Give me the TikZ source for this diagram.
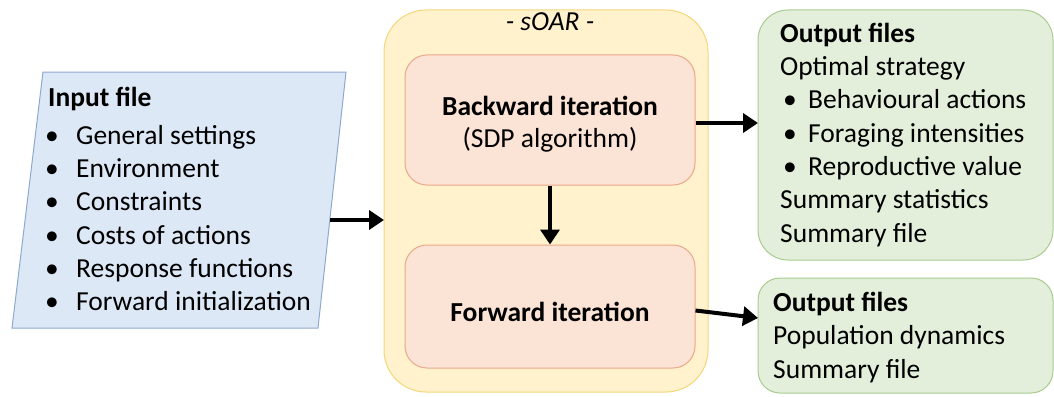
\documentclass[tikz,border=0pt]{standalone}
\usepackage{fontspec}
\setmainfont{Carlito}
\usetikzlibrary{arrows.meta}
\definecolor{inFill}{HTML}{DDE8F6}
\definecolor{inDraw}{HTML}{8EA9CF}
\definecolor{soFill}{HTML}{FFF2CC}
\definecolor{soDraw}{HTML}{F3D77A}
\definecolor{itFill}{HTML}{FBE3D5}
\definecolor{itDraw}{HTML}{E9A98A}
\definecolor{ouFill}{HTML}{E3EFDA}
\definecolor{ouDraw}{HTML}{A8CC90}
\tikzset{
  txt/.style={font=\fontsize{27.5}{33.3}\selectfont, inner sep=0pt, align=left},
  ctxt/.style={font=\fontsize{27.5}{32}\selectfont, inner sep=0pt, align=center},
  conn/.style={line width=4pt, -{Triangle[length=15pt,width=19pt]}},
}
\newcommand{\bulA}{\hspace*{-3pt}\makebox[31pt][l]{•}}
\newcommand{\bulB}{\hspace*{3pt}\makebox[25pt][l]{•}}
\begin{document}
\begin{tikzpicture}[x=1pt,y=-1pt]
\useasboundingbox (0,0) rectangle (1054,396);
% input parallelogram
\draw[fill=inFill, draw=inDraw, line width=1pt] (43,72) coordinate (inTL) -- (346,72) -- (318,328) -- (12,328) -- cycle;
\coordinate (inR) at (330,220);
\node[txt, anchor=base west] (intext) at (48,310.7) {\textbf{Input file}\\[4.7pt]
\bulA General settings\\
\bulA Environment\\
\bulA Constraints\\
\bulA Costs of actions\\
\bulA Response functions\\
\bulA Forward initialization};
% sOAR container
\draw[fill=soFill, draw=soDraw, line width=1pt, rounded corners=42pt] (384,10) rectangle (708,392);
\node[ctxt, anchor=base, font=\fontsize{27.5}{32}\selectfont\itshape] (soar) at (550,31) {- sOAR -};
\coordinate (soL) at (384,220);
% iteration boxes
\node[draw=itDraw, fill=itFill, line width=1pt, rounded corners=22pt, minimum width=290pt, minimum height=130pt, inner sep=0pt] (back) at (550,120) {};
\node[ctxt, anchor=base] (backt) at (550,115) {\textbf{Backward iteration}};
\node[ctxt, anchor=base] (backs) at (550,147) {(SDP algorithm)};
\node[draw=itDraw, fill=itFill, line width=1pt, rounded corners=22pt, minimum width=290pt, minimum height=123pt, inner sep=0pt] (fwd) at (550,306.5) {};
\node[ctxt, anchor=base] (fwdt) at (550,321) {\textbf{Forward iteration}};
% output boxes
\draw[fill=ouFill, draw=ouDraw, line width=1pt, rounded corners=30pt] (758,10) rectangle (1053,260);
\node[txt, anchor=base west] (out1) at (780,242) {\textbf{Output files}\\
Optimal strategy\\
\bulB Behavioural actions\\
\bulB Foraging intensities\\
\bulB Reproductive value\\
Summary statistics\\
Summary file};
\coordinate (o1L) at (758,123);
\draw[fill=ouFill, draw=ouDraw, line width=1pt, rounded corners=22pt] (758,278) rectangle (1053,393);
\node[txt, anchor=base west] (out2) at (773,378) {\textbf{Output files}\\
Population dynamics\\
Summary file};
\coordinate (o2L) at (758,318);
% connectors
\draw[conn] (inR) -- (soL);
\draw[conn] (back.south) -- (fwd.north);
\draw[conn] (back.east |- o1L) -- (o1L);
\draw[conn] ([yshift=-4pt]fwd.east) -- (o2L);
\end{tikzpicture}
\end{document}
